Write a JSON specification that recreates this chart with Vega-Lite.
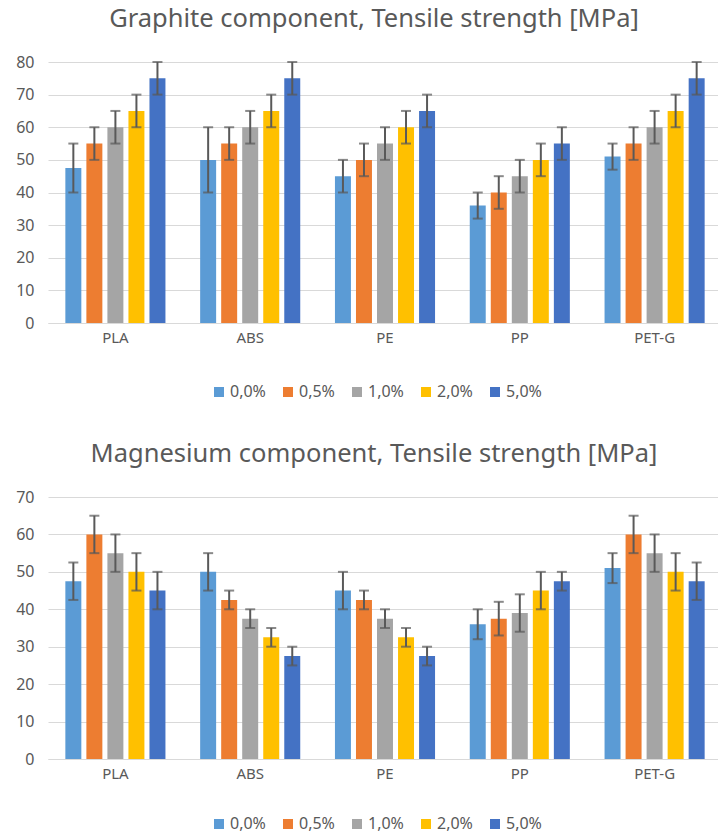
{
  "$schema": "https://vega.github.io/schema/vega-lite/v6.json",
  "background": "white",
  "padding": {"left": 15, "top": 6, "right": 0, "bottom": 4},
  "config": {
    "font": "Noto Sans",
    "view": {"stroke": null},
    "title": {"fontSize": 25.5, "fontWeight": "normal", "color": "#595959", "anchor": "middle", "offset": 22, "dx": -11},
    "axis": {"labelColor": "#595959", "gridColor": "#d9d9d9", "domainColor": "#d9d9d9", "ticks": false, "title": null, "labelOverlap": false},
    "legend": {"labelColor": "#595959", "labelFontSize": 16, "symbolType": "square", "symbolSize": 100, "symbolStrokeWidth": 0, "title": null, "columnPadding": 14, "labelOffset": 3}
  },
  "datasets": {
    "graphite": [
      {"material": "PLA", "conc": "0,0%", "value": 47.5, "lo": 40, "hi": 55},
      {"material": "PLA", "conc": "0,5%", "value": 55, "lo": 50, "hi": 60},
      {"material": "PLA", "conc": "1,0%", "value": 60, "lo": 55, "hi": 65},
      {"material": "PLA", "conc": "2,0%", "value": 65, "lo": 60, "hi": 70},
      {"material": "PLA", "conc": "5,0%", "value": 75, "lo": 70, "hi": 80},
      {"material": "ABS", "conc": "0,0%", "value": 50, "lo": 40, "hi": 60},
      {"material": "ABS", "conc": "0,5%", "value": 55, "lo": 50, "hi": 60},
      {"material": "ABS", "conc": "1,0%", "value": 60, "lo": 55, "hi": 65},
      {"material": "ABS", "conc": "2,0%", "value": 65, "lo": 60, "hi": 70},
      {"material": "ABS", "conc": "5,0%", "value": 75, "lo": 70, "hi": 80},
      {"material": "PE", "conc": "0,0%", "value": 45, "lo": 40, "hi": 50},
      {"material": "PE", "conc": "0,5%", "value": 50, "lo": 45, "hi": 55},
      {"material": "PE", "conc": "1,0%", "value": 55, "lo": 50, "hi": 60},
      {"material": "PE", "conc": "2,0%", "value": 60, "lo": 55, "hi": 65},
      {"material": "PE", "conc": "5,0%", "value": 65, "lo": 60, "hi": 70},
      {"material": "PP", "conc": "0,0%", "value": 36, "lo": 32, "hi": 40},
      {"material": "PP", "conc": "0,5%", "value": 40, "lo": 35, "hi": 45},
      {"material": "PP", "conc": "1,0%", "value": 45, "lo": 40, "hi": 50},
      {"material": "PP", "conc": "2,0%", "value": 50, "lo": 45, "hi": 55},
      {"material": "PP", "conc": "5,0%", "value": 55, "lo": 50, "hi": 60},
      {"material": "PET-G", "conc": "0,0%", "value": 51, "lo": 47, "hi": 55},
      {"material": "PET-G", "conc": "0,5%", "value": 55, "lo": 50, "hi": 60},
      {"material": "PET-G", "conc": "1,0%", "value": 60, "lo": 55, "hi": 65},
      {"material": "PET-G", "conc": "2,0%", "value": 65, "lo": 60, "hi": 70},
      {"material": "PET-G", "conc": "5,0%", "value": 75, "lo": 70, "hi": 80}
    ],
    "magnesium": [
      {"material": "PLA", "conc": "0,0%", "value": 47.5, "lo": 42.5, "hi": 52.5},
      {"material": "PLA", "conc": "0,5%", "value": 60, "lo": 55, "hi": 65},
      {"material": "PLA", "conc": "1,0%", "value": 55, "lo": 50, "hi": 60},
      {"material": "PLA", "conc": "2,0%", "value": 50, "lo": 45, "hi": 55},
      {"material": "PLA", "conc": "5,0%", "value": 45, "lo": 40, "hi": 50},
      {"material": "ABS", "conc": "0,0%", "value": 50, "lo": 45, "hi": 55},
      {"material": "ABS", "conc": "0,5%", "value": 42.5, "lo": 40, "hi": 45},
      {"material": "ABS", "conc": "1,0%", "value": 37.5, "lo": 35, "hi": 40},
      {"material": "ABS", "conc": "2,0%", "value": 32.5, "lo": 30, "hi": 35},
      {"material": "ABS", "conc": "5,0%", "value": 27.5, "lo": 25, "hi": 30},
      {"material": "PE", "conc": "0,0%", "value": 45, "lo": 40, "hi": 50},
      {"material": "PE", "conc": "0,5%", "value": 42.5, "lo": 40, "hi": 45},
      {"material": "PE", "conc": "1,0%", "value": 37.5, "lo": 35, "hi": 40},
      {"material": "PE", "conc": "2,0%", "value": 32.5, "lo": 30, "hi": 35},
      {"material": "PE", "conc": "5,0%", "value": 27.5, "lo": 25, "hi": 30},
      {"material": "PP", "conc": "0,0%", "value": 36, "lo": 32, "hi": 40},
      {"material": "PP", "conc": "0,5%", "value": 37.5, "lo": 33, "hi": 42},
      {"material": "PP", "conc": "1,0%", "value": 39, "lo": 34, "hi": 44},
      {"material": "PP", "conc": "2,0%", "value": 45, "lo": 40, "hi": 50},
      {"material": "PP", "conc": "5,0%", "value": 47.5, "lo": 45, "hi": 50},
      {"material": "PET-G", "conc": "0,0%", "value": 51, "lo": 47, "hi": 55},
      {"material": "PET-G", "conc": "0,5%", "value": 60, "lo": 55, "hi": 65},
      {"material": "PET-G", "conc": "1,0%", "value": 55, "lo": 50, "hi": 60},
      {"material": "PET-G", "conc": "2,0%", "value": 50, "lo": 45, "hi": 55},
      {"material": "PET-G", "conc": "5,0%", "value": 47.5, "lo": 42.5, "hi": 52.5}
    ]
  },
  "spacing": 41,
  "vconcat": [
    {
      "title": "Graphite component, Tensile strength [MPa]",
      "data": {"name": "graphite"},
      "width": 674,
      "height": 261,
      "encoding": {
        "x": {"field": "material", "type": "nominal", "sort": ["PLA", "ABS", "PE", "PP", "PET-G"], "scale": {"paddingInner": 0.22, "paddingOuter": 0.11}, "axis": {"labelAngle": 0, "labelFontSize": 15, "labelPadding": 7, "grid": false}},
        "xOffset": {"field": "conc", "type": "nominal", "sort": ["0,0%", "0,5%", "1,0%", "2,0%", "5,0%"], "scale": {"paddingInner": 0.24, "paddingOuter": 0.12}}
      },
      "layer": [
        {
          "mark": {"type": "bar"},
          "encoding": {
            "y": {"field": "value", "type": "quantitative", "scale": {"domain": [0, 80]}, "axis": {"values": [0, 10, 20, 30, 40, 50, 60, 70, 80], "labelOverlap": false, "labelFontSize": 16, "labelPadding": 14, "domain": false, "grid": true}},
            "color": {"field": "conc", "type": "nominal", "sort": ["0,0%", "0,5%", "1,0%", "2,0%", "5,0%"], "scale": {"range": ["#5B9BD5", "#ED7D31", "#A5A5A5", "#FFC000", "#4472C4"]}, "legend": {"orient": "none", "direction": "horizontal", "legendX": 163, "legendY": 322}}
          }
        },
        {
          "mark": {"type": "rule", "color": "#595959", "strokeWidth": 2},
          "encoding": {"y": {"field": "lo", "type": "quantitative", "axis": {"values": [0, 10, 20, 30, 40, 50, 60, 70, 80], "labelOverlap": false, "labelFontSize": 16, "labelPadding": 14, "domain": false, "grid": true}}, "y2": {"field": "hi"}}
        },
        {
          "mark": {"type": "tick", "color": "#595959", "orient": "horizontal", "size": 10, "thickness": 2},
          "encoding": {"y": {"field": "lo", "type": "quantitative", "axis": {"values": [0, 10, 20, 30, 40, 50, 60, 70, 80], "labelOverlap": false, "labelFontSize": 16, "labelPadding": 14, "domain": false, "grid": true}}}
        },
        {
          "mark": {"type": "tick", "color": "#595959", "orient": "horizontal", "size": 10, "thickness": 2},
          "encoding": {"y": {"field": "hi", "type": "quantitative", "axis": {"values": [0, 10, 20, 30, 40, 50, 60, 70, 80], "labelOverlap": false, "labelFontSize": 16, "labelPadding": 14, "domain": false, "grid": true}}}
        }
      ]
    },
    {
      "title": "Magnesium component, Tensile strength [MPa]",
      "data": {"name": "magnesium"},
      "width": 674,
      "height": 262,
      "encoding": {
        "x": {"field": "material", "type": "nominal", "sort": ["PLA", "ABS", "PE", "PP", "PET-G"], "scale": {"paddingInner": 0.22, "paddingOuter": 0.11}, "axis": {"labelAngle": 0, "labelFontSize": 15, "labelPadding": 7, "grid": false}},
        "xOffset": {"field": "conc", "type": "nominal", "sort": ["0,0%", "0,5%", "1,0%", "2,0%", "5,0%"], "scale": {"paddingInner": 0.24, "paddingOuter": 0.12}}
      },
      "layer": [
        {
          "mark": {"type": "bar"},
          "encoding": {
            "y": {"field": "value", "type": "quantitative", "scale": {"domain": [0, 70]}, "axis": {"values": [0, 10, 20, 30, 40, 50, 60, 70], "labelOverlap": false, "labelFontSize": 16, "labelPadding": 14, "domain": false, "grid": true}},
            "color": {"field": "conc", "type": "nominal", "sort": ["0,0%", "0,5%", "1,0%", "2,0%", "5,0%"], "scale": {"range": ["#5B9BD5", "#ED7D31", "#A5A5A5", "#FFC000", "#4472C4"]}, "legend": {"orient": "none", "direction": "horizontal", "legendX": 163, "legendY": 319}}
          }
        },
        {
          "mark": {"type": "rule", "color": "#595959", "strokeWidth": 2},
          "encoding": {"y": {"field": "lo", "type": "quantitative", "axis": {"values": [0, 10, 20, 30, 40, 50, 60, 70], "labelOverlap": false, "labelFontSize": 16, "labelPadding": 14, "domain": false, "grid": true}}, "y2": {"field": "hi"}}
        },
        {
          "mark": {"type": "tick", "color": "#595959", "orient": "horizontal", "size": 10, "thickness": 2},
          "encoding": {"y": {"field": "lo", "type": "quantitative", "axis": {"values": [0, 10, 20, 30, 40, 50, 60, 70], "labelOverlap": false, "labelFontSize": 16, "labelPadding": 14, "domain": false, "grid": true}}}
        },
        {
          "mark": {"type": "tick", "color": "#595959", "orient": "horizontal", "size": 10, "thickness": 2},
          "encoding": {"y": {"field": "hi", "type": "quantitative", "axis": {"values": [0, 10, 20, 30, 40, 50, 60, 70], "labelOverlap": false, "labelFontSize": 16, "labelPadding": 14, "domain": false, "grid": true}}}
        }
      ]
    }
  ],
  "resolve": {"scale": {"color": "independent"}, "legend": {"color": "independent"}}
}
